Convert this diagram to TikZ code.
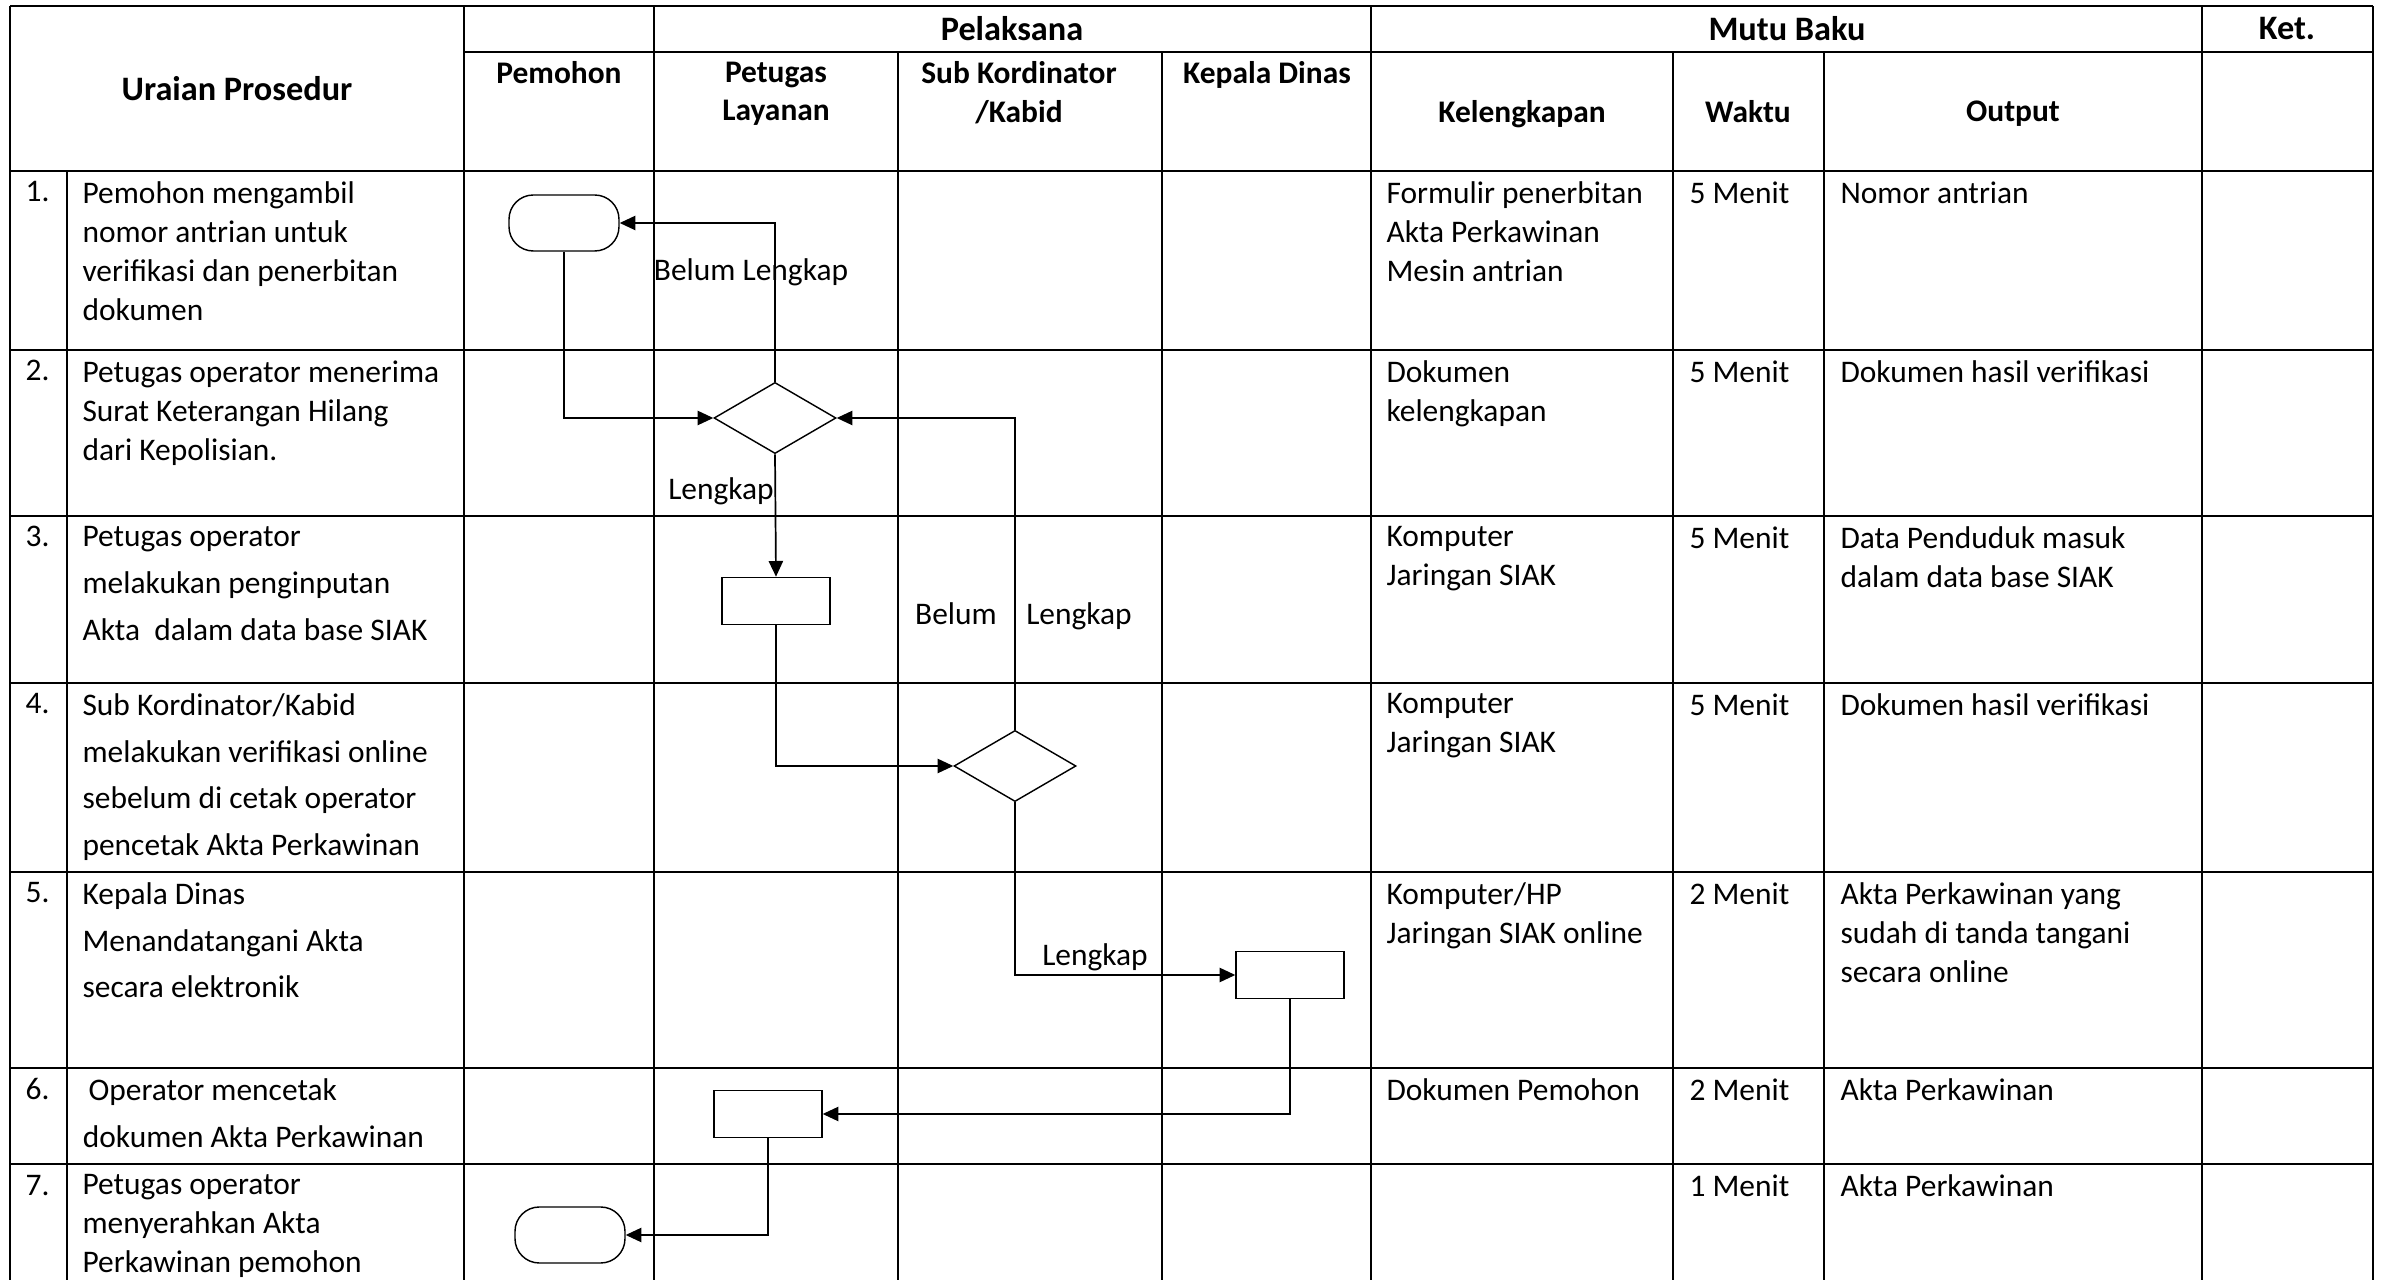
\documentclass[tikz,border=0pt]{standalone}
\usepackage{fontspec}
\setmainfont{Carlito}
\usetikzlibrary{shapes.geometric,arrows.meta}

\begin{document}
\begin{tikzpicture}[x=0.35pt,y=-0.35pt,
  grid/.style={line width=0.6pt},
  flow/.style={line width=0.6pt,-{Triangle[length=5.5pt,width=5pt]}},
  term/.style={draw,line width=0.5pt,rounded corners=8.5pt,minimum width=38.5pt,minimum height=19.6pt,inner sep=0pt},
  proc/.style={draw,line width=0.5pt,minimum width=37.8pt,minimum height=16.5pt,inner sep=0pt},
  dec/.style={draw,diamond,line width=0.5pt,minimum width=42.7pt,minimum height=24.9pt,inner sep=0pt},
  txt/.style={anchor=north west,yshift=7.3pt,align=left,inner sep=0pt,
    font=\fontsize{11}{13.6}\selectfont},
  wide/.style={txt,font=\fontsize{11}{16.3}\selectfont},
  num/.style={anchor=base west,inner sep=0pt,font=\fontsize{11}{13.6}\selectfont},
  head/.style={anchor=north,yshift=7.3pt,align=center,inner sep=0pt,
    font=\bfseries\fontsize{11}{13.6}\selectfont},
  big/.style={inner sep=0pt,font=\bfseries\fontsize{12}{14}\selectfont},
  lbl/.style={anchor=base,inner sep=0pt,font=\fontsize{11}{13.6}\selectfont}]
  \useasboundingbox (0,0) rectangle (2383,1280);

  % table
  \draw[grid] (10,6) -- (2373,6) (464,52) -- (2373,52);
  \foreach \y in {171,350,516,683,872,1068,1164}
    \draw[grid] (10,\y) -- (2373,\y);
  \foreach \x in {10,464,654,1371,2202,2373}
    \draw[grid] (\x,6) -- (\x,1280);
  \foreach \x in {898,1162,1673,1824}
    \draw[grid] (\x,52) -- (\x,1280);
  \draw[grid] (67,171) -- (67,1280);

  % header
  \node[big] (hur) at (237,89) {Uraian Prosedur};
  \node[big] (hpel) at (1012,29) {Pelaksana};
  \node[big] (hmutu) at (1787,29) {Mutu Baku};
  \node[big] (hket) at (2287,29) {Ket.};
  \node[head] (hpem) at (559,82) {Pemohon};
  \node[head] (hpet) at (776,82) {Petugas\\Layanan};
  \node[head] (hsub) at (1019,82) {Sub Kordinator\\/Kabid};
  \node[head] (hkep) at (1267,82) {Kepala Dinas};
  \node[head] (hkel) at (1522,121) {Kelengkapan};
  \node[head] (hwak) at (1748,121) {Waktu};
  \node[head] (hout) at (2013,121) {Output};

  % rows
  \node[num] (n1) at (25,202) {1.};
  \node[txt] (u1) at (82,202) {Pemohon mengambil\\nomor antrian untuk\\verifikasi dan penerbitan\\dokumen};
  \node[txt] (k1) at (1386,202) {Formulir penerbitan\\Akta Perkawinan\\Mesin antrian};
  \node[txt] (w1) at (1689,202) {5 Menit};
  \node[txt] (o1) at (1840,202) {Nomor antrian};

  \node[num] (n2) at (25,381) {2.};
  \node[txt] (u2) at (82,381) {Petugas operator menerima\\Surat Keterangan Hilang\\dari Kepolisian.};
  \node[txt] (k2) at (1386,381) {Dokumen\\kelengkapan};
  \node[txt] (w2) at (1689,381) {5 Menit};
  \node[txt] (o2) at (1840,381) {Dokumen hasil verifikasi};

  \node[num] (n3) at (25,547) {3.};
  \node[wide] (u3) at (82,547) {Petugas operator\\melakukan penginputan\\Akta\ \ dalam data base SIAK};
  \node[txt] (k3) at (1386,547) {Komputer\\Jaringan SIAK};
  \node[txt] (w3) at (1689,547) {5 Menit};
  \node[txt] (o3) at (1840,547) {Data Penduduk masuk\\dalam data base SIAK};

  \node[num] (n4) at (25,714) {4.};
  \node[wide] (u4) at (82,714) {Sub Kordinator/Kabid\\melakukan verifikasi online\\sebelum di cetak operator\\pencetak Akta Perkawinan};
  \node[txt] (k4) at (1386,714) {Komputer\\Jaringan SIAK};
  \node[txt] (w4) at (1689,714) {5 Menit};
  \node[txt] (o4) at (1840,714) {Dokumen hasil verifikasi};

  \node[num] (n5) at (25,903) {5.};
  \node[wide] (u5) at (82,903) {Kepala Dinas\\Menandatangani Akta\\secara elektronik};
  \node[txt] (k5) at (1386,903) {Komputer/HP\\Jaringan SIAK online};
  \node[txt] (w5) at (1689,903) {2 Menit};
  \node[txt] (o5) at (1840,903) {Akta Perkawinan yang\\sudah di tanda tangani\\secara online};

  \node[num] (n6) at (25,1099) {6.};
  \node[wide] (u6) at (88,1099) {Operator mencetak\\\kern-2pt dokumen Akta Perkawinan};
  \node[txt] (k6) at (1386,1099) {Dokumen Pemohon};
  \node[txt] (w6) at (1689,1099) {2 Menit};
  \node[txt] (o6) at (1840,1099) {Akta Perkawinan};

  \node[num] (n7) at (25,1195) {7.};
  \node[txt] (u7) at (82,1195) {Petugas operator\\menyerahkan Akta\\Perkawinan pemohon};
  \node[txt] (w7) at (1689,1195) {1 Menit};
  \node[txt] (o7) at (1840,1195) {Akta Perkawinan};

  % flow
  \node[term] (t1) at (564,223) {};
  \node[dec] (d1) at (775,418) {};
  \node[proc] (r1) at (776,601) {};
  \node[dec] (d2) at (1015,766) {};
  \node[proc] (r2) at (1290,975) {};
  \node[proc] (r3) at (768,1114) {};
  \node[term] (t2) at (570,1235) {};

  \draw[flow] (t1.south) |- (d1.west);
  \draw[flow] (d1.north) |- (t1.east);
  \draw[flow] (d1.south) -- (r1.north);
  \draw[flow] (r1.south) |- (d2.west);
  \draw[flow] (d2.north) |- (d1.east);
  \draw[flow] (d2.south) |- (r2.west);
  \draw[flow] (r2.south) |- (r3.east);
  \draw[flow] (r3.south) |- (t2.east);

  \node[lbl] (lb1) at (751,281) {Belum Lengkap};
  \node[lbl] (ll1) at (721,500) {Lengkap};
  \node[lbl] (lb2) at (956,625) {Belum};
  \node[lbl] (ll2) at (1079,625) {Lengkap};
  \node[lbl] (ll3) at (1095,966) {Lengkap};
\end{tikzpicture}
\end{document}
